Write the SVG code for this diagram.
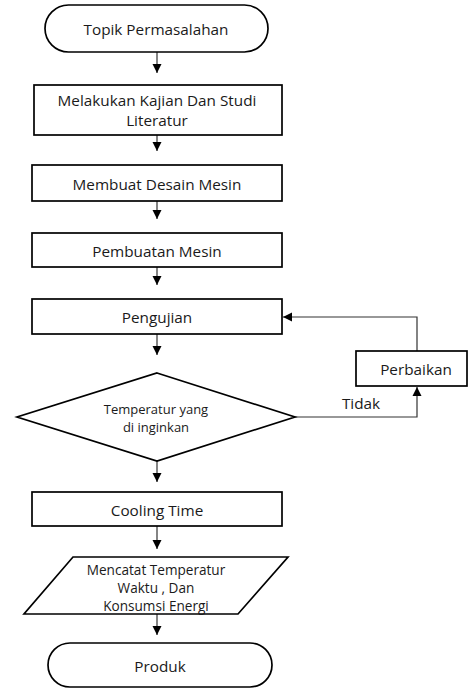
<svg xmlns="http://www.w3.org/2000/svg" width="470" height="690" viewBox="0 0 470 690">
<style>
.s{fill:#fff;stroke:#000;stroke-width:1.7}
.t{font-family:"Open Sans","Liberation Sans",sans-serif;font-size:15.3px;fill:#1a1a1a;text-anchor:middle;dominant-baseline:central}
.sm{font-size:13px}
.md{font-size:13.6px}
.c{fill:none;stroke:#333;stroke-width:1.2}
</style>
<defs>
<marker id="a" markerWidth="10" markerHeight="10" refX="9" refY="5" orient="auto" markerUnits="userSpaceOnUse">
<path d="M0,0.5 L9,5 L0,9.5 z" fill="#000"/>
</marker>
</defs>
<rect width="470" height="690" fill="#fff"/>
<g id="connectors">
<line class="c" x1="157" y1="52" x2="157" y2="73" marker-end="url(#a)"/>
<line class="c" x1="157" y1="135" x2="157" y2="151" marker-end="url(#a)"/>
<line class="c" x1="157" y1="201" x2="157" y2="219" marker-end="url(#a)"/>
<line class="c" x1="157" y1="267" x2="157" y2="285" marker-end="url(#a)"/>
<line class="c" x1="157" y1="334" x2="157" y2="355" marker-end="url(#a)"/>
<polyline class="c" points="295,417 417,417 417,387" marker-end="url(#a)"/>
<polyline class="c" points="417,351 417,317 283,317" marker-end="url(#a)"/>
<line class="c" x1="157" y1="461" x2="157" y2="482" marker-end="url(#a)"/>
<line class="c" x1="157" y1="526" x2="157" y2="549" marker-end="url(#a)"/>
<line class="c" x1="157" y1="614" x2="157" y2="635" marker-end="url(#a)"/>
<text class="t" x="361" y="403">Tidak</text>
</g>
<g id="topik">
<rect class="s" x="45" y="5" width="223" height="47" rx="23.5"/>
<text class="t" x="156" y="29">Topik Permasalahan</text>
</g>
<g id="kajian">
<rect class="s" x="34" y="85" width="248" height="50"/>
<text class="t" x="157" y="100">Melakukan Kajian Dan Studi</text>
<text class="t" x="157" y="120">Literatur</text>
</g>
<g id="desain">
<rect class="s" x="32" y="165" width="250" height="36"/>
<text class="t" x="157" y="184">Membuat Desain Mesin</text>
</g>
<g id="pembuatan">
<rect class="s" x="32" y="233" width="250" height="34"/>
<text class="t" x="157" y="251">Pembuatan Mesin</text>
</g>
<g id="pengujian">
<rect class="s" x="32" y="299" width="250" height="35"/>
<text class="t" x="157" y="317">Pengujian</text>
</g>
<g id="perbaikan">
<rect class="s" x="356" y="351" width="111" height="35"/>
<text class="t" x="416" y="369">Perbaikan</text>
</g>
<g id="keputusan">
<polygon class="s" points="157,373 295,417 157,461 17,417"/>
<text class="t sm" x="156" y="409">Temperatur yang</text>
<text class="t sm" x="156" y="427">di inginkan</text>
</g>
<g id="cooling">
<rect class="s" x="32" y="492" width="250" height="34"/>
<text class="t" x="157" y="510">Cooling Time</text>
</g>
<g id="mencatat">
<polygon class="s" points="73,557 288,557 238,614 24,614"/>
<text class="t md" x="156" y="569">Mencatat Temperatur</text>
<text class="t md" x="156" y="587">Waktu , Dan</text>
<text class="t md" x="156" y="605">Konsumsi Energi</text>
</g>
<g id="produk">
<rect class="s" x="48" y="643" width="224" height="44" rx="22"/>
<text class="t" x="160" y="666">Produk</text>
</g>
</svg>
